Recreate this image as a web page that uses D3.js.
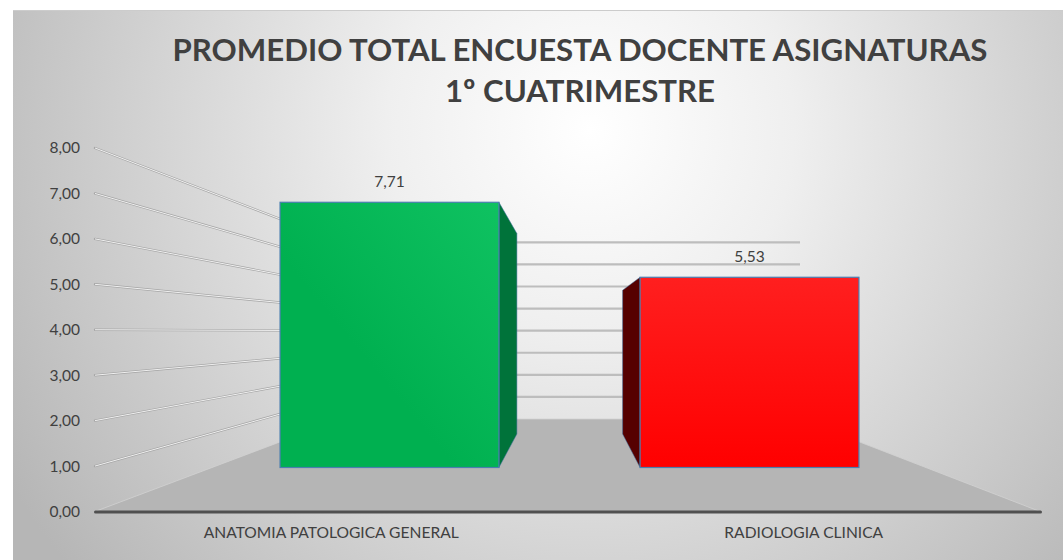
<!DOCTYPE html>
<html><head><meta charset="utf-8">
<script src="https://cdn.jsdelivr.net/npm/d3@7/dist/d3.min.js"></script>
<style>html,body{margin:0;padding:0;background:#fff}svg{display:block}text{font-family:Lato,"Open Sans",sans-serif}</style>
</head><body><div id="chart"></div>
<script>
const categories = ["ANATOMIA PATOLOGICA GENERAL", "RADIOLOGIA CLINICA"];
const values = [7.71, 5.53];
const tickValues = [0, 1, 2, 3, 4, 5, 6, 7, 8];
const titleLines = ["PROMEDIO TOTAL ENCUESTA DOCENTE ASIGNATURAS", "1º CUATRIMESTRE"];
const frontColors = [["#0fc261", "#00b050"], ["#ff1f1f", "#ff0000"]];
const sideColors = ["#00733a", "#560000"];
const sideOnRight = [true, false];

const W = 1063, H = 560;
const svg = d3.select("#chart").append("svg").attr("width", W).attr("height", H);
const defs = svg.append("defs");

const bg = defs.append("radialGradient").attr("id", "bg").attr("gradientUnits", "userSpaceOnUse")
  .attr("cx", 590).attr("cy", 130).attr("r", 680);
bg.append("stop").attr("offset", "0").attr("stop-color", "#ffffff");
bg.append("stop").attr("offset", "0.3").attr("stop-color", "#efefef");
bg.append("stop").attr("offset", "1").attr("stop-color", "#b6b6b6");
frontColors.forEach((c, i) => {
  const g = defs.append("linearGradient").attr("id", "bar" + i)
    .attr("x1", i ? 0.5 : 1).attr("y1", 0).attr("x2", i ? 0.5 : 0.4).attr("y2", i ? 1 : 0.6);
  g.append("stop").attr("offset", "0").attr("stop-color", c[0]);
  g.append("stop").attr("offset", "1").attr("stop-color", c[1]);
});

svg.append("rect").attr("x", 13).attr("y", 10).attr("width", W - 13).attr("height", H - 10)
  .attr("fill", "url(#bg)");
svg.append("line").attr("x1", 13).attr("x2", W).attr("y1", 10.5).attr("y2", 10.5)
  .attr("stroke", "#cccccc").attr("stroke-width", 1);

// Projected scales: front of the left wall, back wall, bar front plane, bar back plane
const yFrontWall = d3.scaleLinear().domain([0, 8]).range([511.5, 148]);
const yBackWall = d3.scaleLinear().domain([0, 8]).range([419, 242.3]);
const yBarFront = d3.scaleLinear().domain([0, 8]).range([467.5, 192.3]);
const yBarBack = d3.scaleLinear().domain([0, 8]).range([434, 226]);
const xAxisBand = d3.scaleBand().domain(categories).range([95, 1040]);
const band = r => d3.scaleBand().domain(categories).range(r).paddingInner(0.392).paddingOuter(0.196);
const xBarFront = band([209.5, 929.5]);
const xBarBack = band([300, 839.5]);
const wallX = { front: 95, back: 341, backRight: 800, frontRight: 1040 };

// floor
const floorPts = [[wallX.front, yFrontWall(0)], [wallX.back, yBackWall(0)], [wallX.backRight, yBackWall(0)], [wallX.frontRight, yFrontWall(0)]].join(" ");
svg.append("polygon").attr("points", floorPts).attr("fill", "#b5b5b5");
svg.append("polyline").attr("points", floorPts)
  .attr("fill", "none").attr("stroke", "#d2d2d2").attr("stroke-width", 0.8);

// gridlines
const grid = tickValues.filter(v => v > 0);
svg.selectAll(".wallO").data(grid).join("line").attr("class", "wallO")
  .attr("x1", wallX.front).attr("y1", yFrontWall).attr("x2", wallX.back).attr("y2", yBackWall)
  .attr("stroke", "#a6a6a6").attr("stroke-width", 2.4).attr("stroke-linecap", "round");
svg.selectAll(".wallI").data(grid).join("line").attr("class", "wallI")
  .attr("x1", wallX.front).attr("y1", yFrontWall).attr("x2", wallX.back).attr("y2", yBackWall)
  .attr("stroke", "#f0f0f0").attr("stroke-width", 1);
svg.selectAll(".back").data(grid).join("line").attr("class", "back")
  .attr("x1", wallX.back).attr("y1", yBackWall).attr("x2", wallX.backRight).attr("y2", yBackWall)
  .attr("stroke", "#bdbdbd").attr("stroke-width", 2.2);

// bars
categories.forEach((c, i) => {
  const v = values[i];
  const sx = sideOnRight[i] ? xBarFront(c) + xBarFront.bandwidth() : xBarFront(c);
  const bx = sideOnRight[i] ? xBarBack(c) + xBarBack.bandwidth() : xBarBack(c);
  svg.append("polygon")
    .attr("points", [[sx, yBarFront(v)], [bx, yBarBack(v)], [bx, yBarBack(0)], [sx, yBarFront(0)]].join(" "))
    .attr("fill", sideColors[i]).attr("stroke", "#3f6f9f").attr("stroke-width", 0.5);
  svg.append("rect")
    .attr("x", xBarFront(c)).attr("y", yBarFront(v))
    .attr("width", xBarFront.bandwidth()).attr("height", yBarFront(0) - yBarFront(v))
    .attr("fill", `url(#bar${i})`).attr("stroke", "#4a7fb0").attr("stroke-width", 1.2);
  svg.append("text").attr("x", xBarFront(c) + xBarFront.bandwidth() / 2).attr("y", yBarFront(v) - 15)
    .attr("text-anchor", "middle").attr("font-size", 15.5).attr("fill", "#404040")
    .text(d3.format(".2f")(v).replace(".", ","));
});

// value labels on the left wall
const yAxis = d3.axisLeft(yFrontWall).tickValues(tickValues).tickSize(0).tickPadding(15)
  .tickFormat(d => d3.format(".2f")(d).replace(".", ","));
const gy = svg.append("g").attr("transform", `translate(${wallX.front},0)`).call(yAxis);
gy.select(".domain").remove();
gy.selectAll("text").attr("font-size", 15.5).attr("fill", "#404040").style("font-family", "Lato");

// category axis
const xAxis = d3.axisBottom(xAxisBand).tickSize(0).tickPadding(15);
const gx = svg.append("g").attr("transform", `translate(0,${yFrontWall(0)})`).call(xAxis);
gx.select(".domain").attr("stroke", "#505050").attr("stroke-width", 3).attr("stroke-linecap", "round");
gx.selectAll("text").attr("font-size", 15.6).attr("fill", "#404040").style("font-family", "Lato");

// title
svg.selectAll(".title").data(titleLines).join("text").attr("class", "title")
  .attr("x", 580).attr("y", (d, i) => 61 + i * 41).attr("text-anchor", "middle")
  .attr("font-size", 31.2).attr("font-weight", 700).attr("fill", "#404040").text(d => d);
</script></body></html>
